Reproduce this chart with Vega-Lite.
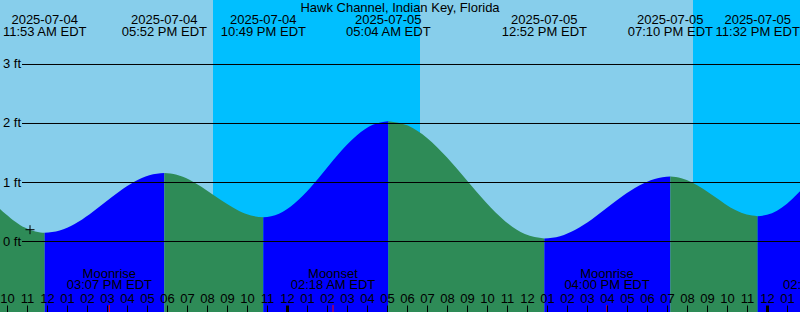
{
  "$schema": "https://vega.github.io/schema/vega-lite/v6.json",
  "width": 800,
  "height": 312,
  "autosize": {"type": "none"},
  "padding": 0,
  "background": "#87CEEB",
  "view": {"fill": "#87CEEB", "stroke": null},
  "config": {"font": "Liberation Sans"},
  "title": {"text": "Hawk Channel, Indian Key, Florida", "fontSize": 13, "font": "Liberation Sans", "fontWeight": "normal", "color": "black", "anchor": "middle", "frame": "group", "offset": -25, "baseline": "alphabetic"},
  "datasets": {
    "night": [
      {"h": -3.7, "h2": 6.65},
      {"h": 20.3, "h2": 30.65}
    ],
    "levels": [
      {"ft": 0, "lbl": "0 ft"},
      {"ft": 1, "lbl": "1 ft"},
      {"ft": 2, "lbl": "2 ft"},
      {"ft": 3, "lbl": "3 ft"}
    ],
    "tide": [
      {"h": -14.6, "ft": 0.64, "seg": "s0", "phase": "falling"},
      {"h": -14.35, "ft": 0.55, "seg": "s0", "phase": "falling"},
      {"h": -14.0833, "ft": 0.47, "seg": "s0", "phase": "falling"},
      {"h": -13.8333, "ft": 0.40, "seg": "s0", "phase": "falling"},
      {"h": -13.5833, "ft": 0.333, "seg": "s0", "phase": "falling"},
      {"h": -13.3333, "ft": 0.277, "seg": "s0", "phase": "falling"},
      {"h": -13.0833, "ft": 0.231, "seg": "s0", "phase": "falling"},
      {"h": -12.8333, "ft": 0.194, "seg": "s0", "phase": "falling"},
      {"h": -12.5833, "ft": 0.169, "seg": "s0", "phase": "falling"},
      {"h": -12.3333, "ft": 0.154, "seg": "s0", "phase": "falling"},
      {"h": -12.1167, "ft": 0.15, "seg": "s0", "phase": "falling"},
      {"h": -12.1167, "ft": 0.15, "seg": "s1", "phase": "rising"},
      {"h": -11.3667, "ft": 0.188, "seg": "s1", "phase": "rising"},
      {"h": -10.6167, "ft": 0.298, "seg": "s1", "phase": "rising"},
      {"h": -9.8667, "ft": 0.462, "seg": "s1", "phase": "rising"},
      {"h": -9.125, "ft": 0.655, "seg": "s1", "phase": "rising"},
      {"h": -8.3833, "ft": 0.848, "seg": "s1", "phase": "rising"},
      {"h": -7.6333, "ft": 1.012, "seg": "s1", "phase": "rising"},
      {"h": -6.8833, "ft": 1.122, "seg": "s1", "phase": "rising"},
      {"h": -6.1333, "ft": 1.16, "seg": "s1", "phase": "rising"},
      {"h": -6.1333, "ft": 1.16, "seg": "s2", "phase": "falling"},
      {"h": -5.5167, "ft": 1.131, "seg": "s2", "phase": "falling"},
      {"h": -4.9, "ft": 1.05, "seg": "s2", "phase": "falling"},
      {"h": -4.2833, "ft": 0.928, "seg": "s2", "phase": "falling"},
      {"h": -3.6583, "ft": 0.785, "seg": "s2", "phase": "falling"},
      {"h": -3.0333, "ft": 0.642, "seg": "s2", "phase": "falling"},
      {"h": -2.4167, "ft": 0.52, "seg": "s2", "phase": "falling"},
      {"h": -1.8, "ft": 0.439, "seg": "s2", "phase": "falling"},
      {"h": -1.1833, "ft": 0.41, "seg": "s2", "phase": "falling"},
      {"h": -1.1833, "ft": 0.41, "seg": "s3", "phase": "rising"},
      {"h": -0.4, "ft": 0.472, "seg": "s3", "phase": "rising"},
      {"h": 0.3833, "ft": 0.649, "seg": "s3", "phase": "rising"},
      {"h": 1.1667, "ft": 0.913, "seg": "s3", "phase": "rising"},
      {"h": 1.9417, "ft": 1.225, "seg": "s3", "phase": "rising"},
      {"h": 2.7167, "ft": 1.537, "seg": "s3", "phase": "rising"},
      {"h": 3.5, "ft": 1.801, "seg": "s3", "phase": "rising"},
      {"h": 4.2833, "ft": 1.978, "seg": "s3", "phase": "rising"},
      {"h": 5.0667, "ft": 2.04, "seg": "s3", "phase": "rising"},
      {"h": 5.0667, "ft": 2.04, "seg": "s4", "phase": "falling"},
      {"h": 6.0417, "ft": 1.964, "seg": "s4", "phase": "falling"},
      {"h": 7.0167, "ft": 1.749, "seg": "s4", "phase": "falling"},
      {"h": 7.9917, "ft": 1.426, "seg": "s4", "phase": "falling"},
      {"h": 8.9667, "ft": 1.045, "seg": "s4", "phase": "falling"},
      {"h": 9.9417, "ft": 0.664, "seg": "s4", "phase": "falling"},
      {"h": 10.9167, "ft": 0.341, "seg": "s4", "phase": "falling"},
      {"h": 11.8917, "ft": 0.126, "seg": "s4", "phase": "falling"},
      {"h": 12.8667, "ft": 0.05, "seg": "s4", "phase": "falling"},
      {"h": 12.8667, "ft": 0.05, "seg": "s5", "phase": "rising"},
      {"h": 13.65, "ft": 0.09, "seg": "s5", "phase": "rising"},
      {"h": 14.4417, "ft": 0.204, "seg": "s5", "phase": "rising"},
      {"h": 15.2333, "ft": 0.374, "seg": "s5", "phase": "rising"},
      {"h": 16.0167, "ft": 0.575, "seg": "s5", "phase": "rising"},
      {"h": 16.8, "ft": 0.776, "seg": "s5", "phase": "rising"},
      {"h": 17.5917, "ft": 0.946, "seg": "s5", "phase": "rising"},
      {"h": 18.3833, "ft": 1.06, "seg": "s5", "phase": "rising"},
      {"h": 19.1667, "ft": 1.10, "seg": "s5", "phase": "rising"},
      {"h": 19.1667, "ft": 1.10, "seg": "s6", "phase": "falling"},
      {"h": 19.7167, "ft": 1.074, "seg": "s6", "phase": "falling"},
      {"h": 20.2583, "ft": 1.002, "seg": "s6", "phase": "falling"},
      {"h": 20.8, "ft": 0.893, "seg": "s6", "phase": "falling"},
      {"h": 21.35, "ft": 0.765, "seg": "s6", "phase": "falling"},
      {"h": 21.9, "ft": 0.637, "seg": "s6", "phase": "falling"},
      {"h": 22.4417, "ft": 0.528, "seg": "s6", "phase": "falling"},
      {"h": 22.9833, "ft": 0.456, "seg": "s6", "phase": "falling"},
      {"h": 23.5333, "ft": 0.43, "seg": "s6", "phase": "falling"},
      {"h": 23.5333, "ft": 0.43, "seg": "s7", "phase": "rising"},
      {"h": 24, "ft": 0.452, "seg": "s7", "phase": "rising"},
      {"h": 24.5, "ft": 0.523, "seg": "s7", "phase": "rising"},
      {"h": 25, "ft": 0.639, "seg": "s7", "phase": "rising"},
      {"h": 25.5, "ft": 0.80, "seg": "s7", "phase": "rising"},
      {"h": 26, "ft": 0.98, "seg": "s7", "phase": "rising"}
    ],
    "events": [
      {"h": -12.1167, "lbl": ["2025-07-04", "11:53 AM EDT"]},
      {"h": -6.1333, "lbl": ["2025-07-04", "05:52 PM EDT"]},
      {"h": -1.1833, "lbl": ["2025-07-04", "10:49 PM EDT"]},
      {"h": 5.0667, "lbl": ["2025-07-05", "05:04 AM EDT"]},
      {"h": 12.8667, "lbl": ["2025-07-05", "12:52 PM EDT"]},
      {"h": 19.1667, "lbl": ["2025-07-05", "07:10 PM EDT"]},
      {"h": 23.5333, "lbl": ["2025-07-05", "11:32 PM EDT"]}
    ],
    "moon": [
      {"h": -8.8833, "lbl": ["Moonrise", "03:07 PM EDT"]},
      {"h": 2.3, "lbl": ["Moonset", "02:18 AM EDT"]},
      {"h": 16, "lbl": ["Moonrise", "04:00 PM EDT"]},
      {"h": 26.9167, "lbl": ["Moonset", "02:55 AM EDT"]}
    ],
    "now": [
      {"h": -12.85, "ft": 0.2}
    ]
  },
  "layer": [
    {
      "encoding": {
        "x": {
          "field": "h",
          "type": "quantitative",
          "scale": {"domain": [-14.35, 25.65], "nice": false, "zero": false},
          "axis": {
            "orient": "bottom",
            "title": null,
            "domain": false,
            "grid": false,
            "zindex": 1,
            "values": [-14, -13, -12, -11, -10, -9, -8, -7, -6, -5, -4, -3, -2, -1, 0, 1, 2, 3, 4, 5, 6, 7, 8, 9, 10, 11, 12, 13, 14, 15, 16, 17, 18, 19, 20, 21, 22, 23, 24, 25],
            "labelExpr": "(((datum.value % 12) + 12) % 12) == 0 ? '12' : ((((datum.value % 12) + 12) % 12) < 10 ? '0' + (((datum.value % 12) + 12) % 12) : '' + (((datum.value % 12) + 12) % 12))",
            "tickSize": -7,
            "tickColor": "black",
            "tickWidth": {"condition": {"test": "((datum.value % 24) + 24) % 24 == 0", "value": 3}, "value": 1},
            "labelFont": "Liberation Sans",
            "labelFontSize": 13,
            "labelColor": "black",
            "labelBaseline": "alphabetic",
            "labelPadding": -3,
            "labelFlush": false,
            "labelOverlap": false,
            "labelBound": false
          }
        },
        "y": {
          "field": "ft",
          "type": "quantitative",
          "scale": {"domain": [-1.1949, 4.0932], "nice": false, "zero": false},
          "axis": null
        }
      },
      "layer": [
        {
          "data": {"name": "night"},
          "mark": {"type": "rect", "color": "#00BFFF", "clip": true},
          "encoding": {"x2": {"field": "h2"}, "y": {"value": 0}, "y2": {"value": 312}}
        },
        {
          "data": {"name": "tide"},
          "mark": {"type": "area", "interpolate": "monotone", "clip": true, "opacity": 1},
          "encoding": {
            "y2": {"datum": -1.1949},
            "color": {"field": "phase", "type": "nominal", "scale": {"domain": ["rising", "falling"], "range": ["#0000FF", "#2E8B57"]}, "legend": null},
            "detail": {"field": "seg"}
          }
        },
        {
          "data": {"name": "moon"},
          "mark": {"type": "rule", "color": "#FF0000", "strokeWidth": 1, "clip": true},
          "encoding": {"y": {"value": 305}, "y2": {"value": 312}}
        },
        {
          "data": {"name": "moon"},
          "mark": {"type": "text", "font": "Liberation Sans", "fontSize": 13, "color": "black", "align": "center", "baseline": "alphabetic", "lineHeight": 11},
          "encoding": {"y": {"value": 278}, "text": {"field": "lbl"}}
        },
        {
          "data": {"name": "events"},
          "mark": {"type": "text", "font": "Liberation Sans", "fontSize": 13, "color": "black", "align": "center", "baseline": "alphabetic", "lineHeight": 12.3},
          "encoding": {"y": {"value": 24}, "text": {"field": "lbl"}}
        },
        {
          "data": {"name": "now"},
          "mark": {"type": "point", "shape": "M-1,0H1M0,-1V1", "size": 81, "filled": false, "stroke": "black", "strokeWidth": 1, "opacity": 1}
        }
      ]
    },
    {
      "data": {"name": "levels"},
      "mark": {"type": "rule", "color": "black", "strokeWidth": 1, "clip": true},
      "encoding": {
        "x": {
          "datum": -13.25,
          "type": "quantitative",
          "axis": {
            "orient": "bottom",
            "title": null,
            "domain": false,
            "grid": false,
            "zindex": 1,
            "values": [-14, -13, -12, -11, -10, -9, -8, -7, -6, -5, -4, -3, -2, -1, 0, 1, 2, 3, 4, 5, 6, 7, 8, 9, 10, 11, 12, 13, 14, 15, 16, 17, 18, 19, 20, 21, 22, 23, 24, 25],
            "labelExpr": "(((datum.value % 12) + 12) % 12) == 0 ? '12' : ((((datum.value % 12) + 12) % 12) < 10 ? '0' + (((datum.value % 12) + 12) % 12) : '' + (((datum.value % 12) + 12) % 12))",
            "tickSize": -7,
            "tickColor": "black",
            "tickWidth": {"condition": {"test": "((datum.value % 24) + 24) % 24 == 0", "value": 3}, "value": 1},
            "labelFont": "Liberation Sans",
            "labelFontSize": 13,
            "labelColor": "black",
            "labelBaseline": "alphabetic",
            "labelPadding": -3,
            "labelFlush": false,
            "labelOverlap": false,
            "labelBound": false
          }
        },
        "x2": {"datum": 26},
        "y": {"field": "ft", "type": "quantitative", "axis": null}
      }
    },
    {
      "data": {"name": "levels"},
      "mark": {"type": "text", "font": "Liberation Sans", "fontSize": 13, "color": "black", "align": "left", "baseline": "middle"},
      "encoding": {
        "x": {
          "datum": -14.2,
          "type": "quantitative",
          "axis": {
            "orient": "bottom",
            "title": null,
            "domain": false,
            "grid": false,
            "zindex": 1,
            "values": [-14, -13, -12, -11, -10, -9, -8, -7, -6, -5, -4, -3, -2, -1, 0, 1, 2, 3, 4, 5, 6, 7, 8, 9, 10, 11, 12, 13, 14, 15, 16, 17, 18, 19, 20, 21, 22, 23, 24, 25],
            "labelExpr": "(((datum.value % 12) + 12) % 12) == 0 ? '12' : ((((datum.value % 12) + 12) % 12) < 10 ? '0' + (((datum.value % 12) + 12) % 12) : '' + (((datum.value % 12) + 12) % 12))",
            "tickSize": -7,
            "tickColor": "black",
            "tickWidth": {"condition": {"test": "((datum.value % 24) + 24) % 24 == 0", "value": 3}, "value": 1},
            "labelFont": "Liberation Sans",
            "labelFontSize": 13,
            "labelColor": "black",
            "labelBaseline": "alphabetic",
            "labelPadding": -3,
            "labelFlush": false,
            "labelOverlap": false,
            "labelBound": false
          }
        },
        "y": {"field": "ft", "type": "quantitative", "axis": null},
        "text": {"field": "lbl"}
      }
    }
  ]
}
